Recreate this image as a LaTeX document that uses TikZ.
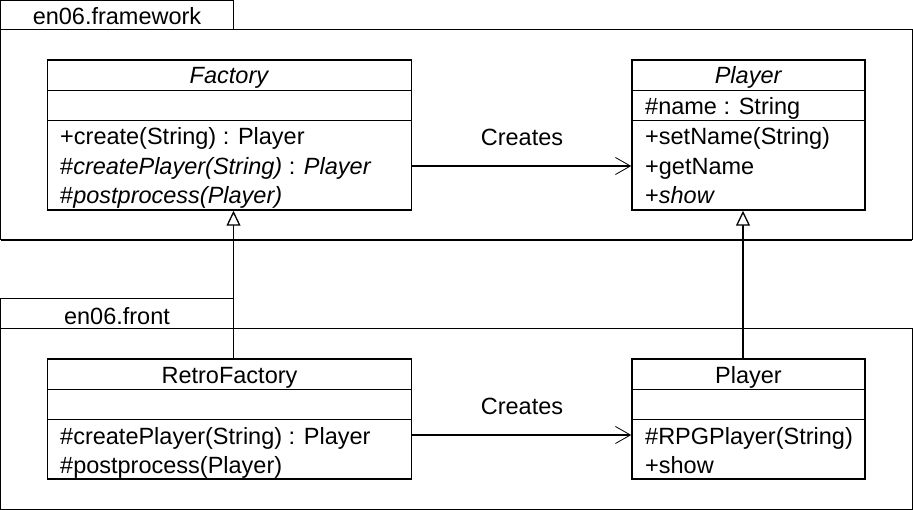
\documentclass[tikz,border=0pt]{standalone}
\usepackage{fontspec}
\setmainfont{Liberation Sans}
\usetikzlibrary{arrows.meta}
\begin{document}
\begin{tikzpicture}[x=1pt,y=-1pt,
  every node/.style={font=\fontsize{23.5}{27}\selectfont, inner sep=0pt},
  pkg/.style={draw, line width=1pt},
  cls/.style={draw, line width=1.5pt, fill=white, rectangle},
  divider/.style={line width=0.8pt},
  txt/.style={anchor=base west},
  ttl/.style={anchor=base},
  creates/.style={line width=1.8pt, -{Straight Barb[length=15pt,width=17pt,line width=0.8pt]}},
  inherit/.style={line width=1.9pt, -{Triangle[open,length=15pt,width=14pt,line width=1.3pt,fill=white]}}
]
\useasboundingbox (0,0) rectangle (913,510);
% packages
\draw[pkg] (0.5,0.5) rectangle (233,30);
\draw[pkg] (0.5,30) rectangle (912,240);
\draw[line width=2pt] (0.5,240) -- (912,240);
\node[ttl] (fwlabel) at (117,25) {en06.framework};
\draw[pkg] (0.5,299) rectangle (233,329);
\draw[pkg] (0.5,329) rectangle (912,509);
\node[ttl] (frlabel) at (117,325) {en06.front};

% Factory
\node[cls, minimum width=364pt, minimum height=150pt] (factory) at (229.5,135) {};
\draw[divider] (47.5,90) -- (411.5,90);
\draw[divider] (47.5,120) -- (411.5,120);
\node[ttl] (factoryT) at (229.5,84) {\textit{Factory}};
\node[txt] (fop1) at (60,145) {+create(String) : Player};
\node[txt] (fop2) at (60,175) {\#\textit{createPlayer(String)} : \textit{Player}};
\node[txt] (fop3) at (60,204) {\#\textit{postprocess(Player)}};

% Player (abstract)
\node[cls, minimum width=233pt, minimum height=150pt] (player) at (748.5,135) {};
\draw[divider] (632,90) -- (865,90);
\draw[divider] (632,120) -- (865,120);
\node[ttl] (playerT) at (748.5,84) {\textit{Player}};
\node[txt] (pattr) at (645,115) {\#name : String};
\node[txt] (pop1) at (645,145) {+setName(String)};
\node[txt] (pop2) at (645,175) {+getName};
\node[txt] (pop3) at (645,204) {+\textit{show}};

% RetroFactory
\node[cls, minimum width=364pt, minimum height=120pt] (retro) at (229.5,419) {};
\draw[divider] (47.5,389) -- (411.5,389);
\draw[divider] (47.5,419) -- (411.5,419);
\node[ttl] (retroT) at (229.5,384) {RetroFactory};
\node[txt] (rop1) at (60,444) {\#createPlayer(String) : Player};
\node[txt] (rop2) at (60,473) {\#postprocess(Player)};

% Player (front)
\node[cls, minimum width=233pt, minimum height=120pt] (rplayer) at (748.5,419) {};
\draw[divider] (632,389) -- (865,389);
\draw[divider] (632,419) -- (865,419);
\node[ttl] (rplayerT) at (748.5,384) {Player};
\node[txt] (rpop1) at (645,444) {\#RPGPlayer(String)};
\node[txt] (rpop2) at (645,473) {+show};

% Creates associations
\coordinate (c1) at (0,166);
\coordinate (c2) at (0,435);
\draw[creates] (c1 -| factory.east) -- (c1 -| player.west);
\node[ttl] (cr1) at (522,146) {Creates};
\draw[creates] (c2 -| retro.east) -- (c2 -| rplayer.west);
\node[ttl] (cr2) at (522,414) {Creates};

% inheritance
\draw[inherit] ([xshift=4]retro.north) -- ([xshift=4]factory.south);
\draw[inherit] ([xshift=-5.5]rplayer.north) -- ([xshift=-5.5]player.south);
\end{tikzpicture}
\end{document}
